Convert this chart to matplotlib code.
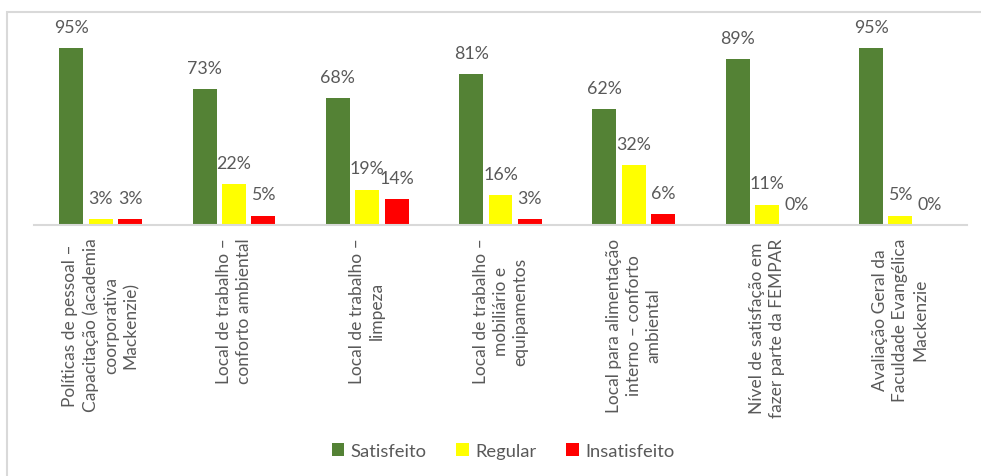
import numpy as np
import matplotlib
matplotlib.use("Agg")
import matplotlib.pyplot as plt
from matplotlib.patches import Rectangle

# categories (x axis), one per group of bars
categories = [
    "Políticas de pessoal –\nCapacitação (academia\ncoorporativa\nMackenzie)",
    "Local de trabalho –\nconforto ambiental",
    "Local de trabalho –\nlimpeza",
    "Local de trabalho –\nmobiliário e\nequipamentos",
    "Local para alimentação\ninterno – conforto\nambiental",
    "Nível de satisfação em\nfazer parte da FEMPAR",
    "Avaliação Geral da\nFaculdade Evangélica\nMackenzie",
]
series_names = ["Satisfeito", "Regular", "Insatisfeito"]
satisfeito = [95, 73, 68, 81, 62, 89, 95]
regular = [3, 22, 19, 16, 32, 11, 5]
insatisfeito = [3, 5, 14, 3, 6, 0, 0]

colors = ["#548235", "#FFFF00", "#FF0000"]
text_color = "#595959"

plt.rcParams["font.family"] = ["Lato", "DejaVu Sans"]

fig = plt.figure(figsize=(9.81, 4.77), dpi=100)
# outer chart border (cropped on right/bottom like the reference)
fig.patches.append(Rectangle((7 / 981, -0.05), 1.0, 1 - 13 / 477 + 0.05,
                             transform=fig.transFigure, fill=False,
                             edgecolor="#d9d9d9", linewidth=1.5))

ax = fig.add_axes([34 / 981, 1 - 226 / 477, (967 - 34) / 981, (226 - 30) / 477])

x = np.arange(len(categories))
width = 0.18
step = 0.22
all_series = [satisfeito, regular, insatisfeito]
for i, (vals, name, c) in enumerate(zip(all_series, series_names, colors)):
    pos = x + (i - 1) * step
    ax.bar(pos, vals, width, color=c, label=name, zorder=2)
    for px, v in zip(pos, vals):
        ax.annotate(f"{v}%", (px, v), xytext=(0, 9.5), textcoords="offset points",
                    ha="center", va="bottom", fontsize=12.8, color=text_color)

ax.set_xlim(-0.5, len(categories) - 0.5)
ax.set_ylim(0, 105.2)
ax.set_yticks([])
for s in ["top", "right", "left"]:
    ax.spines[s].set_visible(False)
ax.spines["bottom"].set_color("#d9d9d9")
ax.spines["bottom"].set_linewidth(1.5)

ax.set_xticks(x)
ax.set_xticklabels(categories, rotation=90, ha="center", va="top",
                   multialignment="center", fontsize=12.5, color=text_color,
                   linespacing=1.3)
ax.tick_params(axis="x", length=0, pad=9)

fig.legend(loc="center", bbox_to_anchor=(503 / 981, 1 - 452 / 477), ncol=3,
           frameon=False, fontsize=13.2, labelcolor=text_color,
           handlelength=0.7, handleheight=0.7, handletextpad=0.35,
           columnspacing=1.6)

fig.savefig("out.png", dpi=100)
